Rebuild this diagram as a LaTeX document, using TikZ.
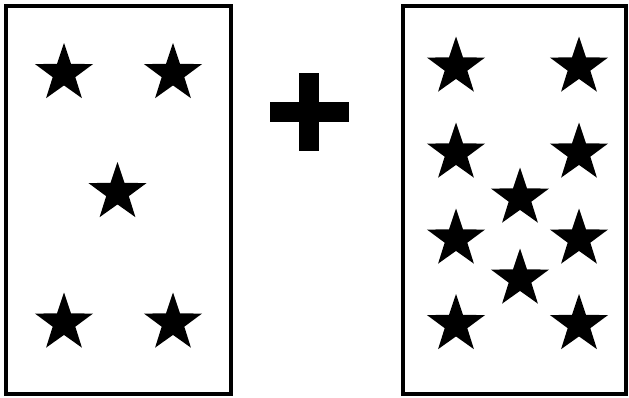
\documentclass[tikz,border=0pt]{standalone}
\tikzset{
  starpic/.pic={\fill (0,-30.5) \foreach \k in {1,...,9}{ -- ({-90+36*\k}:{ifthenelse(mod(\k,2)==1,11.9,30.5)}) } -- cycle;},
  box/.style={draw=black, line width=3pt},
  bar/.style={fill=black}
}
\begin{document}
\begin{tikzpicture}[x=0.75pt,y=-0.75pt]
\useasboundingbox (0,0) rectangle (629,397);
% left box
\draw[box] (6,6) rectangle (231,394);
\foreach \p in {(64,73.5),(173,73.5),(117.5,192.5),(64,323),(173,323)}
  \pic at \p {starpic};
% plus
\fill[bar] (270,101.7) rectangle (349,121.7);
\fill[bar] (299.3,72.7) rectangle (319.3,150.7);
% right box
\draw[box] (403,6) rectangle (626,394);
\foreach \p in {(456,67),(579,67),(456,153),(579,153),(456,239),(579,239),(456,324.5),(579,324.5),(520,198),(520,279)}
  \pic at \p {starpic};
\end{tikzpicture}
\end{document}
